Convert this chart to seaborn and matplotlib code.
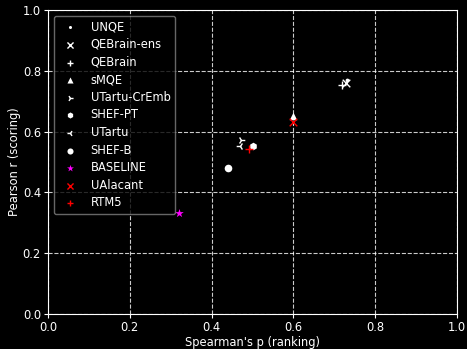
import matplotlib
matplotlib.use('Agg')
import matplotlib.pyplot as plt
import seaborn as sns

systems = ['UNQE', 'QEBrain-ens', 'QEBrain', 'sMQE', 'UTartu-CrEmb', 'SHEF-PT',
           'UTartu', 'SHEF-B', 'BASELINE', 'UAlacant', 'RTM5']
spearman = [0.730, 0.728, 0.719, 0.600, 0.472, 0.500, 0.469, 0.441, 0.321, 0.600, 0.491]
pearson = [0.770, 0.760, 0.753, 0.651, 0.572, 0.552, 0.553, 0.481, 0.331, 0.630, 0.542]
markers = ['.', 'x', '+', '^', '4', 'h', '3', 'o', '*', 'x', '+']
colors = ['white'] * 8 + ['magenta', 'red', 'red']

plt.style.use('dark_background')
plt.rcParams['font.size'] = 8.3
plt.rcParams['xtick.major.size'] = 2.6
plt.rcParams['ytick.major.size'] = 2.6
plt.rcParams['xtick.major.pad'] = 2.2
plt.rcParams['ytick.major.pad'] = 2.5
plt.rcParams['axes.labelpad'] = 1.5
plt.rcParams['axes.linewidth'] = 0.8
fig, ax = plt.subplots(figsize=(4.67, 3.49), dpi=100)

line_art = {'x', '+', '3', '4'}
for name, x, y, m, c in zip(systems, spearman, pearson, markers, colors):
    sns.scatterplot(x=[x], y=[y], marker=m, color=c, s=42 if m == '*' else 30,
                    linewidth=1.0 if m in line_art else 0, label=name, ax=ax)
    coll = ax.collections[-1]
    coll.set_facecolor(c)
    coll.set_edgecolor(c)
    coll.set_alpha(1)

ax.set_xlim(0, 1)
ax.set_ylim(0, 1)
ax.set_xlabel("Spearman's p (ranking)")
ax.set_ylabel('Pearson r (scoring)')
ax.grid(True, linestyle='--', color='white', alpha=0.8, linewidth=0.8)
ax.set_axisbelow(True)
leg = ax.legend(loc='upper left', facecolor='black', edgecolor='gray',
                markerscale=0.8, labelspacing=0.4)
for h, c in zip(leg.legend_handles, colors):
    h.set_facecolor(c)
    h.set_edgecolor(c)

fig.subplots_adjust(left=48/467, right=457/467, bottom=1-314/349, top=1-10/349)
fig.savefig('out.png', dpi=100)
